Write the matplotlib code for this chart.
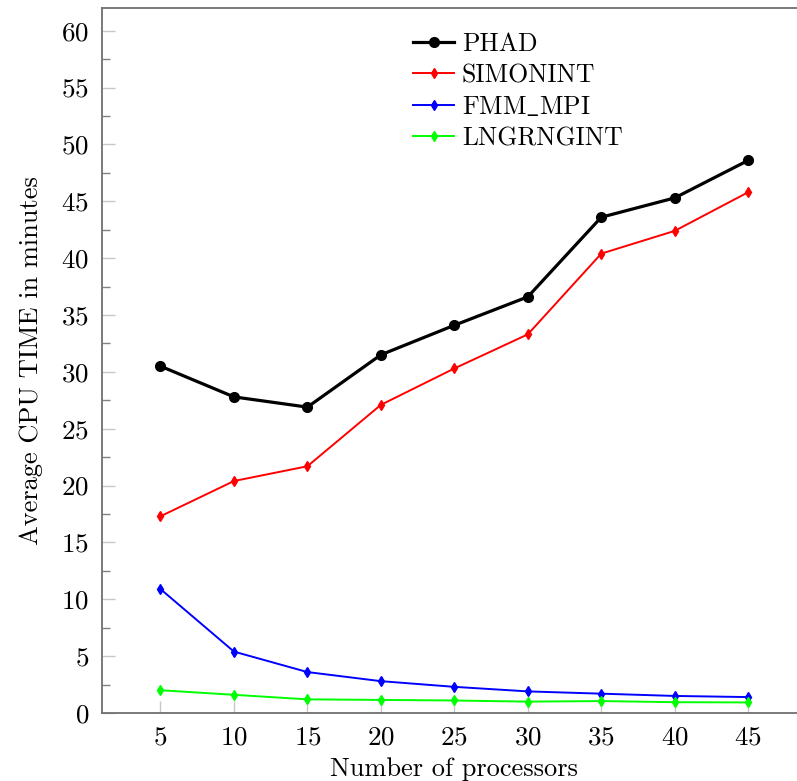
import matplotlib
matplotlib.use("Agg")
import matplotlib.pyplot as plt
from matplotlib.ticker import MultipleLocator

# Processor counts and average CPU time (minutes) per method
processors = [5, 10, 15, 20, 25, 30, 35, 40, 45]
phad = [30.5, 27.8, 26.9, 31.5, 34.1, 36.6, 43.6, 45.3, 48.6]
simonint = [17.3, 20.4, 21.7, 27.1, 30.3, 33.3, 40.4, 42.4, 45.8]
fmm_mpi = [10.9, 5.4, 3.6, 2.8, 2.3, 1.9, 1.7, 1.5, 1.4]
lngrngint = [2.0, 1.6, 1.2, 1.15, 1.1, 1.0, 1.05, 0.95, 0.93]
labels = ["PHAD", "SIMONINT", r"$\mathrm{FMM\_MPI}$", "LNGRNGINT"]

plt.rcParams["font.family"] = ["cmr10", "DejaVu Serif"]
plt.rcParams["axes.formatter.use_mathtext"] = True
plt.rcParams["mathtext.fontset"] = "cm"

W, H = 797, 781
fig = plt.figure(figsize=(W / 100, H / 100), dpi=100)

left_px, right_px, top_px, bottom_px = 101.7, 807, 8, 713
ax = fig.add_axes([left_px / W, 1 - bottom_px / H,
                   (right_px - left_px) / W, (bottom_px - top_px) / H])

ax.plot(processors, phad, color="black", lw=2.3, marker="o", ms=7,
        label=labels[0], clip_on=False)
ax.plot(processors, simonint, color="#ff0000", lw=1.4, marker="d", ms=5.5,
        label=labels[1])
ax.plot(processors, fmm_mpi, color="#0000ff", lw=1.4, marker="d", ms=5.5,
        label=labels[2])
ax.plot(processors, lngrngint, color="#00ff00", lw=1.4, marker="d", ms=5.5,
        label=labels[3])

ax.set_xlim(1, 49)
ax.set_ylim(0, 62)
ax.set_xticks(processors)
ax.yaxis.set_major_locator(MultipleLocator(5))
ax.yaxis.set_minor_locator(MultipleLocator(2.5))

for side in ["left", "bottom", "top", "right"]:
    ax.spines[side].set_color("#707070")
    ax.spines[side].set_linewidth(1.3)

ax.tick_params(axis="both", which="major", direction="in", length=9,
               width=1.0, color="#c8c8c8", labelsize=19.5, pad=9)
ax.tick_params(axis="y", which="minor", direction="in", length=6,
               width=1.0, color="#808080")
ax.tick_params(axis="x", which="major", top=False)
ax.tick_params(axis="y", which="both", right=False)

ax.set_xlabel("Number of processors", fontsize=19, labelpad=6)
ax.set_ylabel("Average CPU TIME in minutes", fontsize=19, labelpad=13)

ax.legend(loc="upper left", bbox_to_anchor=(413 / W, 1 - 32 / H),
          bbox_transform=fig.transFigure, frameon=False, fontsize=18.5,
          handlelength=1.6, handletextpad=0.3, labelspacing=0.3,
          borderpad=0, borderaxespad=0)

fig.savefig("out.png", dpi=100)
